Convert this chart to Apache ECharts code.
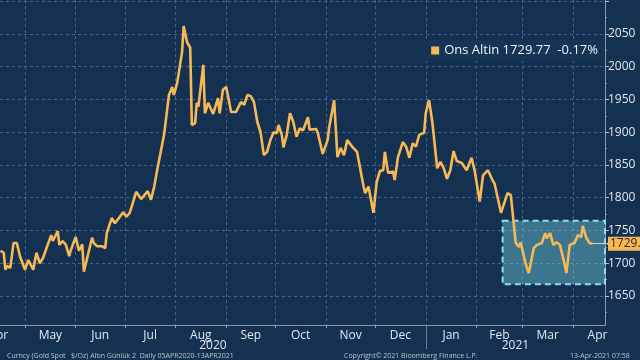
<!DOCTYPE html>
<html><head><meta charset="utf-8">
<script src="https://cdn.jsdelivr.net/npm/echarts@6/dist/echarts.min.js"></script>
<style>html,body{margin:0;padding:0;background:#143152;}#c{width:640px;height:360px;}</style>
</head><body><div id="c"></div>
<script>
const dates = ['2020-04-16','2020-04-18','2020-04-19','2020-04-20','2020-04-22','2020-04-24','2020-04-26','2020-04-28','2020-04-29','2020-05-01','2020-05-03','2020-05-04','2020-05-06','2020-05-08','2020-05-10','2020-05-12','2020-05-17','2020-05-18','2020-05-21','2020-05-22','2020-05-24','2020-05-26','2020-05-28','2020-05-29','2020-06-01','2020-06-03','2020-06-05','2020-06-06','2020-06-08','2020-06-11','2020-06-12','2020-06-14','2020-06-17','2020-06-19','2020-06-20','2020-06-23','2020-06-25','2020-06-28','2020-06-30','2020-07-02','2020-07-04','2020-07-08','2020-07-11','2020-07-15','2020-07-17','2020-07-19','2020-07-21','2020-07-25','2020-07-28','2020-07-30','2020-07-31','2020-08-02','2020-08-03','2020-08-05','2020-08-06','2020-08-08','2020-08-10','2020-08-11','2020-08-13','2020-08-14','2020-08-15','2020-08-18','2020-08-19','2020-08-21','2020-08-24','2020-08-25','2020-08-27','2020-08-28','2020-08-30','2020-09-01','2020-09-04','2020-09-07','2020-09-08','2020-09-10','2020-09-12','2020-09-14','2020-09-16','2020-09-18','2020-09-19','2020-09-20','2020-09-22','2020-09-24','2020-09-25','2020-09-26','2020-09-28','2020-09-30','2020-10-02','2020-10-03','2020-10-05','2020-10-06','2020-10-08','2020-10-10','2020-10-12','2020-10-14','2020-10-16','2020-10-18','2020-10-21','2020-10-22','2020-10-26','2020-10-27','2020-10-30','2020-11-02','2020-11-03','2020-11-06','2020-11-07','2020-11-08','2020-11-10','2020-11-12','2020-11-14','2020-11-17','2020-11-20','2020-11-21','2020-11-24','2020-11-25','2020-11-27','2020-11-30','2020-12-02','2020-12-04','2020-12-06','2020-12-07','2020-12-09','2020-12-12','2020-12-13','2020-12-15','2020-12-18','2020-12-20','2020-12-22','2020-12-24','2020-12-26','2020-12-28','2020-12-31','2021-01-01','2021-01-03','2021-01-05','2021-01-06','2021-01-08','2021-01-10','2021-01-12','2021-01-14','2021-01-16','2021-01-18','2021-01-20','2021-01-23','2021-01-26','2021-01-29','2021-01-31','2021-02-03','2021-02-05','2021-02-08','2021-02-11','2021-02-12','2021-02-16','2021-02-17','2021-02-20','2021-02-22','2021-02-25','2021-02-27','2021-02-28','2021-03-03','2021-03-05','2021-03-08','2021-03-10','2021-03-13','2021-03-15','2021-03-16','2021-03-18','2021-03-20','2021-03-22','2021-03-24','2021-03-26','2021-03-28','2021-03-30','2021-04-02','2021-04-04','2021-04-06','2021-04-07','2021-04-09','2021-04-11','2021-04-13'];
const prices = [1719,1716,1690,1696,1693,1731,1731,1710,1711,1690,1705,1706,1690,1716,1700,1708,1743,1734,1749,1728,1734,1728,1711,1720,1740,1719,1729,1687,1708,1739,1731,1726,1726,1723,1746,1769,1761,1771,1778,1771,1777,1809,1798,1810,1797,1817,1845,1896,1957,1969,1957,1975,1977,2022,2062,2038,2029,1911,1914,1945,1939,2003,1929,1945,1928,1928,1952,1929,1965,1969,1931,1931,1934,1946,1942,1957,1955,1946,1948,1916,1900,1865,1862,1870,1888,1900,1899,1911,1896,1877,1896,1929,1916,1893,1906,1903,1923,1904,1905,1899,1867,1888,1908,1949,1949,1862,1876,1865,1888,1878,1870,1870,1817,1807,1817,1777,1824,1841,1842,1870,1838,1840,1827,1862,1885,1878,1861,1883,1878,1896,1899,1929,1949,1916,1914,1845,1855,1845,1829,1842,1871,1856,1853,1842,1861,1840,1794,1834,1842,1826,1822,1777,1777,1807,1804,1731,1725,1732,1700,1685,1723,1728,1731,1746,1738,1746,1728,1732,1728,1708,1685,1728,1731,1743,1740,1757,1740,1731,1729.77];

const seriesName = 'Ons Altin';
const lastPrice = 1729.77;
const changePct = '-0.17%';
const monthStarts = ['2020-04-01','2020-05-01','2020-06-01','2020-07-01','2020-08-01','2020-09-01','2020-10-01','2020-11-01','2020-12-01','2021-01-01','2021-02-01','2021-03-01','2021-04-01','2021-05-01'];
const monthNames = ['Apr','May','Jun','Jul','Aug','Sep','Oct','Nov','Dec','Jan','Feb','Mar','Apr'];
const yearStart = '2021-01-01';
const yearNames = ['2020','2021'];
const yLabels = [1650,1700,1750,1800,1850,1900,1950,2000,2050];
const yTicks = [1650,1700,1750,1800,1850,1900,1950,2000,2050,2100];
const yMinor = [1625,1675,1725,1775,1825,1875,1925,1975,2025,2075];
const boxRange = {start:'2021-02-17', low:1668, high:1765};

function ts(s){const p=s.split('-').map(Number);return new Date(p[0],p[1]-1,p[2]).getTime();}
const H = 3600*1000;
const xMin = ts('2020-04-15') + 17*H;
const xMax = ts('2021-04-20') + 14*H;
const yMin = 1605.7, yMax = 2101.9;

const startsTs = monthStarts.map(ts);
const midTs = [];
for (let i=0;i<monthNames.length;i++){ midTs.push(Math.max(xMin + 12*H, (startsTs[i]+startsTs[i+1])/2)); }
const yearTs = ts(yearStart);
const yearCenters = [(xMin+yearTs)/2, (yearTs+xMax)/2];

const data = dates.map((d,i)=>[ts(d), prices[i]]);
const lastTs = ts(dates[dates.length-1]);

function nearestIdx(arr, v){let best=0,bd=Infinity;arr.forEach((m,i)=>{const dd=Math.abs(m-v);if(dd<bd){bd=dd;best=i;}});return best;}

const font = '"Open Sans", "Noto Sans", sans-serif';
const chart = echarts.init(document.getElementById('c'));
chart.setOption({
  backgroundColor:'#143152',
  animation:false,
  textStyle:{fontFamily:font},
  title:[
    {text:'Curncy (Gold Spot   $/Oz) Altın Günlük 2  Daily 05APR2020-13APR2021', left:2, top:347, textStyle:{fontSize:7,color:'#b9c3cf',fontWeight:'normal',fontFamily:font}},
    {text:'Copyright© 2021 Bloomberg Finance L.P.', left:339, top:347, textStyle:{fontSize:7,color:'#b9c3cf',fontWeight:'normal',fontFamily:font}},
    {text:'13-Apr-2021 07:58', left:565, top:347, textStyle:{fontSize:7,color:'#b9c3cf',fontWeight:'normal',fontFamily:font}}
  ],
  legend:{
    data:[{name:seriesName, icon:'rect'}],
    right:36, top:40, itemWidth:8, itemHeight:8, itemGap:4,
    backgroundColor:'#163556', padding:[4,6,4,8],
    formatter: n => n + ' ' + lastPrice.toFixed(2) + '  ' + changePct,
    textStyle:{color:'#eef2f6', fontSize:13, fontFamily:font}
  },
  grid:{left:0, right:35, top:0, bottom:35, containLabel:false, outerBoundsMode:'none'},
  xAxis:[
    {type:'value', min:xMin, max:xMax, position:'bottom',
     axisLine:{show:true, lineStyle:{color:'#8d9bab', width:1}},
     axisTick:{show:true, customValues:startsTs, length:3, lineStyle:{color:'#8d9bab'}},
     axisLabel:{show:false},
     splitLine:{show:true, lineStyle:{color:'#45668a', type:[3,3], width:1}}},
    {type:'value', min:xMin, max:xMax, position:'bottom',
     axisLine:{show:false}, axisTick:{show:false}, splitLine:{show:false},
     axisLabel:{show:true, customValues:midTs, margin:5, color:'#e2e8ef', fontSize:12, fontFamily:font,
       hideOverlap:false,
       formatter:(v)=>{const i=nearestIdx(midTs, v); return i===0 ? '{e|'+monthNames[i]+'}' : monthNames[i];},
       rich:{e:{color:'#e2e8ef', fontSize:12, fontFamily:font, padding:[0,5,0,0]}}}},
    {type:'value', min:xMin, max:xMax, position:'bottom',
     axisLine:{show:false}, splitLine:{show:false},
     axisTick:{show:true, customValues:[yearTs], length:24, lineStyle:{color:'#6f8197'}},
     axisLabel:{show:true, customValues:yearCenters, margin:15, color:'#e2e8ef', fontSize:12, fontFamily:font,
       formatter:(v)=> v < yearTs ? yearNames[0] : yearNames[1]}}
  ],
  yAxis:[
    {type:'value', position:'right', min:yMin, max:yMax,
     axisLine:{show:true, lineStyle:{color:'#8d9bab'}},
     axisTick:{show:true, inside:false, length:4, customValues:yTicks, lineStyle:{color:'#b7c2ce'}},
     axisLabel:{show:true, customValues:yLabels, margin:3, color:'#e2e8ef', fontSize:12, fontFamily:font,
       formatter:(v)=>String(Math.round(v))},
     splitLine:{show:true, lineStyle:{color:'#45668a', type:[3,3], width:1}}},
    {type:'value', position:'right', min:yMin, max:yMax,
     axisLine:{show:false}, axisLabel:{show:false}, splitLine:{show:false},
     axisTick:{show:true, length:2, customValues:yMinor, lineStyle:{color:'#8d9bab'}}}
  ],
  series:[
    {name:seriesName, type:'line', xAxisIndex:0, yAxisIndex:0, data:data, showSymbol:false, z:2,
     lineStyle:{color:'#f6b955', width:2.6}, itemStyle:{color:'#f6b955'},
     markLine:{silent:true, symbol:['none','none'],
       lineStyle:{color:'#cfd6c8', width:1, type:'solid'},
       label:{show:true, position:'end', distance:3, formatter:()=>lastPrice.toFixed(2),
         backgroundColor:'#f6b955', color:'#1b2430', fontSize:12, padding:[1,2,1,2], fontFamily:font},
       data:[[{coord:[lastTs,lastPrice]},{coord:[xMax,lastPrice]}]]},
     markPoint:{silent:true, symbol:'triangle', symbolSize:[9,6], symbolRotate:90, symbolOffset:[4,0],
       itemStyle:{color:'#f6b955'}, label:{show:false},
       data:[{coord:[xMax,lastPrice]}]}
    },
    {name:'box', type:'line', xAxisIndex:0, yAxisIndex:0, data:[], z:5,
     markArea:{silent:true,
       itemStyle:{color:'rgba(110,200,215,0.45)', borderColor:'#8fdcec', borderWidth:2, borderType:[6,4]},
       data:[[{coord:[ts(boxRange.start), boxRange.high]},{coord:[xMax, boxRange.low]}]]}}
  ]
});
</script></body></html>
